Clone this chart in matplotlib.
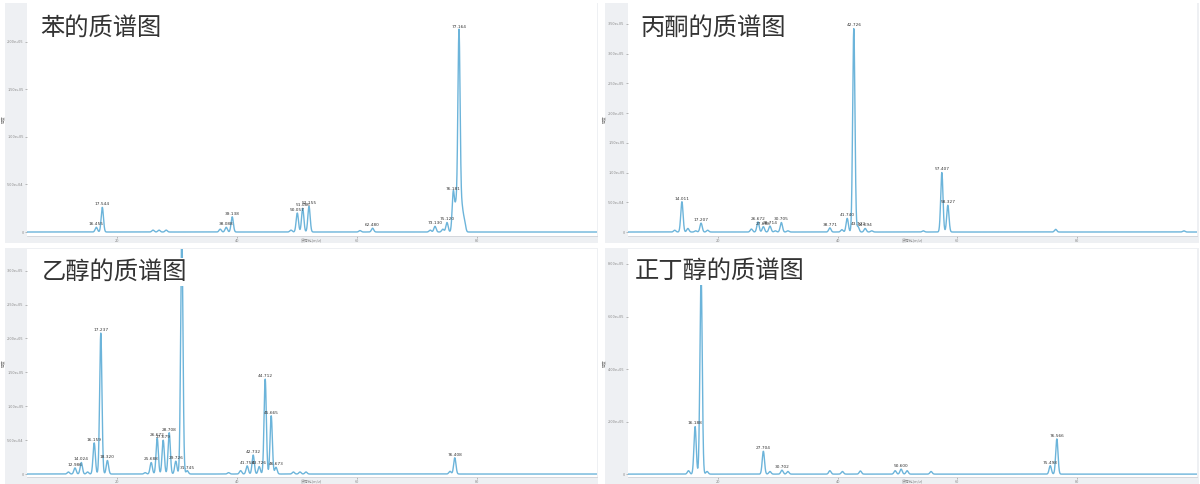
import numpy as np
import matplotlib.pyplot as plt
from matplotlib.patches import Rectangle

plt.rcParams['font.family'] = ['Noto Sans CJK SC', 'DejaVu Sans']

# 苯
benzene_mz = [16.55, 17.55, 26.0, 27.0, 28.2, 37.2, 38.2, 39.2, 49.0, 50.05, 50.95, 52.0,
              60.5, 62.6, 72.2, 73.0, 74.3, 75.0, 76.05, 76.5, 77.0, 77.5, 77.9]
benzene_int = [5e3, 2.6e4, 2e3, 2e3, 2e3, 3e3, 5e3, 1.6e4, 2e3, 2.0e4, 2.5e4, 2.7e4,
               1.5e3, 4e3, 2e3, 6e3, 3e3, 1e4, 4.2e4, 2.6e4, 2.12e5, 2.4e4, 1.2e4]
benzene_lab = ['16.455', '17.544', '', '', '', '', '38.088', '39.138', '', '50.057', '51.086', '52.155',
               '', '62.480', '', '73.130', '', '75.120', '76.181', '', '77.164', '', '']

# 丙酮
acetone_mz = [12.8, 14.0, 15.0, 16.3, 17.2, 18.3, 25.6, 26.7, 27.6, 28.7, 29.6, 30.6, 31.7,
              38.7, 40.7, 41.6, 42.7, 43.4, 44.6, 45.7, 54.3, 57.4, 58.4, 76.4, 97.8]
acetone_int = [3e3, 5.1e4, 6e3, 2e3, 1.5e4, 3e3, 5e3, 1.7e4, 9e3, 1e4, 2e3, 1.6e4, 2e3,
               7e3, 4e3, 2.3e4, 3.42e5, 9e3, 6e3, 2e3, 2e3, 1.0e5, 4.5e4, 4.5e3, 2e3]
acetone_lab = ['', '14.011', '', '', '17.207', '', '', '26.672', '27.688', '28.714', '', '30.705', '',
               '38.771', '', '41.740', '42.726', '43.722', '44.694', '', '', '57.407', '58.327', '', '']

# 乙醇
ethanol_mz = [11.9, 13.0, 14.05, 15.1, 16.2, 17.3, 18.4, 24.7, 25.7, 26.7, 27.7, 28.7, 29.8,
              30.8, 31.7, 38.6, 40.6, 41.7, 42.7, 43.7, 44.7, 45.7, 46.5, 49.4, 50.5, 51.5,
              75.5, 76.3]
ethanol_int = [3e3, 9e3, 1.7e4, 3e3, 4.6e4, 2.08e5, 2e4, 2e3, 1.7e4, 5.3e4, 5e4, 6.1e4, 1.9e4,
               3.6e5, 5e3, 2e3, 5e3, 1.2e4, 2.8e4, 1.1e4, 1.4e5, 8.6e4, 1e4, 3e3, 3e3, 3e3,
               4e3, 2.4e4]
ethanol_lab = ['', '12.986', '14.024', '', '16.159', '17.237', '18.320', '', '25.688', '26.672',
               '27.679', '28.708', '29.726', '', '31.745', '', '', '41.758', '42.732', '43.726',
               '44.712', '45.665', '46.673', '', '', '', '', '76.408']

# 正丁醇
butanol_mz = [15.1, 16.2, 17.2, 18.2, 27.6, 28.7, 30.7, 31.7, 38.7, 40.8, 43.8, 49.6, 50.6,
              51.6, 55.6, 75.5, 76.6]
butanol_int = [1.3e4, 1.81e5, 7.7e5, 1e4, 8.7e4, 1e4, 1.5e4, 1e4, 1.3e4, 1e4, 1.2e4, 1.3e4,
               1.9e4, 1.3e4, 1e4, 3.2e4, 1.34e5]
butanol_lab = ['', '16.188', '', '', '27.704', '', '30.702', '', '', '', '', '', '50.600',
               '', '', '75.498', '76.566']

titles = ['苯的质谱图', '丙酮的质谱图', '乙醇的质谱图', '正丁醇的质谱图']
yticks = [np.arange(0, 2.01e5, 5e4), np.arange(0, 3.51e5, 5e4),
          np.arange(0, 3.01e5, 5e4), np.arange(0, 8.01e5, 2e5)]
ylims = [(-4.2e3, 2.41e5), (-6.7e3, 3.85e5), (-4.4e3, 3.32e5), (-1.1e4, 8.57e5)]

W, H = 1200, 484


def rect(x0, y0, x1, y1):
    return [x0 / W, 1 - y1 / H, (x1 - x0) / W, (y1 - y0) / H]


def profil(mz, inten, x, sigma=0.19):
    y = np.zeros_like(x)
    for c, h in zip(mz, inten):
        y += h * np.exp(-0.5 * ((x - c) / sigma) ** 2)
    return y


fig = plt.figure(figsize=(12, 4.84), dpi=100)

outer = [(5, 3, 598, 243), (605, 3, 1199, 243), (5, 248, 598, 484), (605, 248, 1199, 484)]
inner = [(27, 3, 597, 236), (628, 3, 1197, 236), (27, 249, 597, 477), (628, 249, 1197, 477)]
title_pos = [(40, 28), (640, 28), (42, 272), (635, 271)]
series = [(benzene_mz, benzene_int, benzene_lab), (acetone_mz, acetone_int, acetone_lab),
          (ethanol_mz, ethanol_int, ethanol_lab), (butanol_mz, butanol_int, butanol_lab)]

x = np.linspace(5, 100, 6000)

for i in range(4):
    o = rect(*outer[i])
    fig.add_artist(Rectangle((o[0], o[1]), o[2], o[3], transform=fig.transFigure,
                             facecolor='#eef0f3', edgecolor='none', zorder=0))
    ax = fig.add_axes(rect(*inner[i]))
    ax.set_facecolor('white')
    mz, inten, lab = series[i]
    ax.plot(x, profil(mz, inten, x), color='#6cb4da', lw=1.0)
    for c, h, t in zip(mz, inten, lab):
        if t:
            ax.annotate(t, (c, h), xytext=(0, 0.8), textcoords='offset points',
                        ha='center', va='bottom', fontsize=3.1, color='#333333',
                        family='DejaVu Sans')
    ax.set_xlim(5, 100)
    ax.set_ylim(*ylims[i])
    ax.set_xticks([20, 40, 60, 80])
    ax.set_yticks(yticks[i])
    ax.set_yticklabels(['0' if v == 0 else f'{v:.2e}' for v in yticks[i]])
    ax.tick_params(labelsize=2.8, colors='#888888', length=1.5, width=0.4, pad=1)
    for s in ['top', 'right', 'left']:
        ax.spines[s].set_visible(False)
    ax.spines['bottom'].set_color('#d0d3d8')
    ax.spines['bottom'].set_linewidth(0.6)
    ax.set_xlabel('质荷比(m/z)', fontsize=2.8, color='#888888')
    ax.xaxis.set_label_coords(0.5, -0.012)
    ax.set_ylabel('强度', fontsize=2.8, color='#888888', labelpad=1)
    tx, ty = title_pos[i]
    fig.text(tx / W, 1 - ty / H, titles[i], fontsize=17.5, color='#333333',
             ha='left', va='center', zorder=5,
             bbox=dict(facecolor='white', edgecolor='none', pad=1))

fig.savefig('out.png', dpi=100)
